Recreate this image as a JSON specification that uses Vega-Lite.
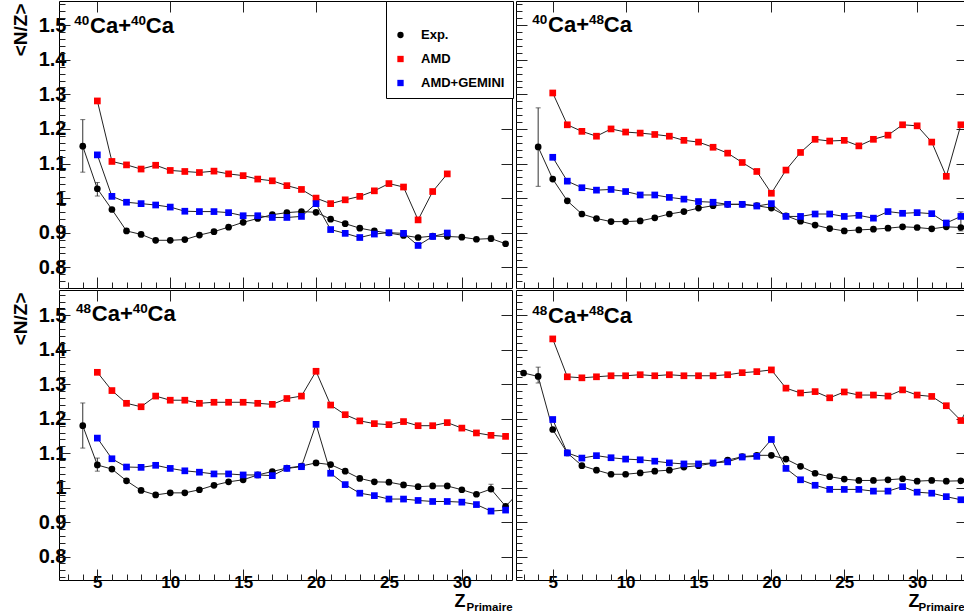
{
"$schema":"https://vega.github.io/schema/vega-lite/v6.json",
"background":"white",
"padding":{"left":10,"top":0,"right":0,"bottom":0},
"spacing":0,
"datasets":{
"titles":[{"p":"TL","a":"40","b":"40","x":3.42,"y":1.478},{"p":"TR","a":"40","b":"48","x":3.6,"y":1.481},{"p":"BL","a":"48","b":"40","x":3.54,"y":1.484},{"p":"BR","a":"48","b":"48","x":3.6,"y":1.479}],
"pts":[
{"p":"TL","s":"Exp.","z":4,"v":1.150,"lo":1.075,"hi":1.227},{"p":"TL","s":"Exp.","z":5,"v":1.027,"lo":1.006,"hi":1.045},{"p":"TL","s":"Exp.","z":6,"v":0.967},{"p":"TL","s":"Exp.","z":7,"v":0.905},{"p":"TL","s":"Exp.","z":8,"v":0.895},{"p":"TL","s":"Exp.","z":9,"v":0.878},{"p":"TL","s":"Exp.","z":10,"v":0.878},{"p":"TL","s":"Exp.","z":11,"v":0.880},{"p":"TL","s":"Exp.","z":12,"v":0.893},{"p":"TL","s":"Exp.","z":13,"v":0.903},{"p":"TL","s":"Exp.","z":14,"v":0.916},{"p":"TL","s":"Exp.","z":15,"v":0.930},{"p":"TL","s":"Exp.","z":16,"v":0.941},{"p":"TL","s":"Exp.","z":17,"v":0.952},{"p":"TL","s":"Exp.","z":18,"v":0.958},{"p":"TL","s":"Exp.","z":19,"v":0.961},{"p":"TL","s":"Exp.","z":20,"v":0.959},{"p":"TL","s":"Exp.","z":21,"v":0.939},{"p":"TL","s":"Exp.","z":22,"v":0.926},{"p":"TL","s":"Exp.","z":23,"v":0.913},{"p":"TL","s":"Exp.","z":24,"v":0.905},{"p":"TL","s":"Exp.","z":25,"v":0.899},{"p":"TL","s":"Exp.","z":26,"v":0.892},{"p":"TL","s":"Exp.","z":27,"v":0.886},{"p":"TL","s":"Exp.","z":28,"v":0.890},{"p":"TL","s":"Exp.","z":29,"v":0.889},{"p":"TL","s":"Exp.","z":30,"v":0.887},{"p":"TL","s":"Exp.","z":31,"v":0.881},{"p":"TL","s":"Exp.","z":32,"v":0.883,"lo":0.875,"hi":0.892},{"p":"TL","s":"Exp.","z":33,"v":0.868},
{"p":"TL","s":"AMD","z":5,"v":1.281},{"p":"TL","s":"AMD","z":6,"v":1.106},{"p":"TL","s":"AMD","z":7,"v":1.096},{"p":"TL","s":"AMD","z":8,"v":1.084},{"p":"TL","s":"AMD","z":9,"v":1.095},{"p":"TL","s":"AMD","z":10,"v":1.080},{"p":"TL","s":"AMD","z":11,"v":1.077},{"p":"TL","s":"AMD","z":12,"v":1.074},{"p":"TL","s":"AMD","z":13,"v":1.078},{"p":"TL","s":"AMD","z":14,"v":1.070},{"p":"TL","s":"AMD","z":15,"v":1.065},{"p":"TL","s":"AMD","z":16,"v":1.055},{"p":"TL","s":"AMD","z":17,"v":1.050},{"p":"TL","s":"AMD","z":18,"v":1.036},{"p":"TL","s":"AMD","z":19,"v":1.025},{"p":"TL","s":"AMD","z":20,"v":1.000},{"p":"TL","s":"AMD","z":21,"v":0.984},{"p":"TL","s":"AMD","z":22,"v":0.995},{"p":"TL","s":"AMD","z":23,"v":1.005},{"p":"TL","s":"AMD","z":24,"v":1.021},{"p":"TL","s":"AMD","z":25,"v":1.042},{"p":"TL","s":"AMD","z":26,"v":1.032},{"p":"TL","s":"AMD","z":27,"v":0.937},{"p":"TL","s":"AMD","z":28,"v":1.019},{"p":"TL","s":"AMD","z":29,"v":1.070},
{"p":"TL","s":"AMD+GEMINI","z":5,"v":1.125},{"p":"TL","s":"AMD+GEMINI","z":6,"v":1.005},{"p":"TL","s":"AMD+GEMINI","z":7,"v":0.988},{"p":"TL","s":"AMD+GEMINI","z":8,"v":0.984},{"p":"TL","s":"AMD+GEMINI","z":9,"v":0.980},{"p":"TL","s":"AMD+GEMINI","z":10,"v":0.974},{"p":"TL","s":"AMD+GEMINI","z":11,"v":0.962},{"p":"TL","s":"AMD+GEMINI","z":12,"v":0.961},{"p":"TL","s":"AMD+GEMINI","z":13,"v":0.961},{"p":"TL","s":"AMD+GEMINI","z":14,"v":0.958},{"p":"TL","s":"AMD+GEMINI","z":15,"v":0.949},{"p":"TL","s":"AMD+GEMINI","z":16,"v":0.949},{"p":"TL","s":"AMD+GEMINI","z":17,"v":0.944},{"p":"TL","s":"AMD+GEMINI","z":18,"v":0.944},{"p":"TL","s":"AMD+GEMINI","z":19,"v":0.947},{"p":"TL","s":"AMD+GEMINI","z":20,"v":0.984},{"p":"TL","s":"AMD+GEMINI","z":21,"v":0.909},{"p":"TL","s":"AMD+GEMINI","z":22,"v":0.898},{"p":"TL","s":"AMD+GEMINI","z":23,"v":0.886},{"p":"TL","s":"AMD+GEMINI","z":24,"v":0.896},{"p":"TL","s":"AMD+GEMINI","z":25,"v":0.900},{"p":"TL","s":"AMD+GEMINI","z":26,"v":0.898},{"p":"TL","s":"AMD+GEMINI","z":27,"v":0.863},{"p":"TL","s":"AMD+GEMINI","z":28,"v":0.889},{"p":"TL","s":"AMD+GEMINI","z":29,"v":0.899},
{"p":"TR","s":"Exp.","z":4,"v":1.148,"lo":1.034,"hi":1.261},{"p":"TR","s":"Exp.","z":5,"v":1.055},{"p":"TR","s":"Exp.","z":6,"v":0.992},{"p":"TR","s":"Exp.","z":7,"v":0.954},{"p":"TR","s":"Exp.","z":8,"v":0.941},{"p":"TR","s":"Exp.","z":9,"v":0.932},{"p":"TR","s":"Exp.","z":10,"v":0.932},{"p":"TR","s":"Exp.","z":11,"v":0.934},{"p":"TR","s":"Exp.","z":12,"v":0.943},{"p":"TR","s":"Exp.","z":13,"v":0.954},{"p":"TR","s":"Exp.","z":14,"v":0.961},{"p":"TR","s":"Exp.","z":15,"v":0.971},{"p":"TR","s":"Exp.","z":16,"v":0.978},{"p":"TR","s":"Exp.","z":17,"v":0.982},{"p":"TR","s":"Exp.","z":18,"v":0.982},{"p":"TR","s":"Exp.","z":19,"v":0.978},{"p":"TR","s":"Exp.","z":20,"v":0.971},{"p":"TR","s":"Exp.","z":21,"v":0.949},{"p":"TR","s":"Exp.","z":22,"v":0.933},{"p":"TR","s":"Exp.","z":23,"v":0.922},{"p":"TR","s":"Exp.","z":24,"v":0.912},{"p":"TR","s":"Exp.","z":25,"v":0.905},{"p":"TR","s":"Exp.","z":26,"v":0.908},{"p":"TR","s":"Exp.","z":27,"v":0.910},{"p":"TR","s":"Exp.","z":28,"v":0.913},{"p":"TR","s":"Exp.","z":29,"v":0.917},{"p":"TR","s":"Exp.","z":30,"v":0.915},{"p":"TR","s":"Exp.","z":31,"v":0.911},{"p":"TR","s":"Exp.","z":32,"v":0.917},{"p":"TR","s":"Exp.","z":33,"v":0.915,"lo":0.905,"hi":0.96},
{"p":"TR","s":"AMD","z":5,"v":1.304},{"p":"TR","s":"AMD","z":6,"v":1.212},{"p":"TR","s":"AMD","z":7,"v":1.193},{"p":"TR","s":"AMD","z":8,"v":1.179},{"p":"TR","s":"AMD","z":9,"v":1.200},{"p":"TR","s":"AMD","z":10,"v":1.191},{"p":"TR","s":"AMD","z":11,"v":1.188},{"p":"TR","s":"AMD","z":12,"v":1.184},{"p":"TR","s":"AMD","z":13,"v":1.179},{"p":"TR","s":"AMD","z":14,"v":1.167},{"p":"TR","s":"AMD","z":15,"v":1.162},{"p":"TR","s":"AMD","z":16,"v":1.147},{"p":"TR","s":"AMD","z":17,"v":1.130},{"p":"TR","s":"AMD","z":18,"v":1.103},{"p":"TR","s":"AMD","z":19,"v":1.077},{"p":"TR","s":"AMD","z":20,"v":1.014},{"p":"TR","s":"AMD","z":21,"v":1.081},{"p":"TR","s":"AMD","z":22,"v":1.132},{"p":"TR","s":"AMD","z":23,"v":1.170},{"p":"TR","s":"AMD","z":24,"v":1.165},{"p":"TR","s":"AMD","z":25,"v":1.167},{"p":"TR","s":"AMD","z":26,"v":1.151},{"p":"TR","s":"AMD","z":27,"v":1.170},{"p":"TR","s":"AMD","z":28,"v":1.182},{"p":"TR","s":"AMD","z":29,"v":1.212},{"p":"TR","s":"AMD","z":30,"v":1.209},{"p":"TR","s":"AMD","z":31,"v":1.162},{"p":"TR","s":"AMD","z":32,"v":1.063},{"p":"TR","s":"AMD","z":33,"v":1.212},
{"p":"TR","s":"AMD+GEMINI","z":5,"v":1.118},{"p":"TR","s":"AMD+GEMINI","z":6,"v":1.049},{"p":"TR","s":"AMD+GEMINI","z":7,"v":1.030},{"p":"TR","s":"AMD+GEMINI","z":8,"v":1.023},{"p":"TR","s":"AMD+GEMINI","z":9,"v":1.025},{"p":"TR","s":"AMD+GEMINI","z":10,"v":1.019},{"p":"TR","s":"AMD+GEMINI","z":11,"v":1.009},{"p":"TR","s":"AMD+GEMINI","z":12,"v":1.009},{"p":"TR","s":"AMD+GEMINI","z":13,"v":1.002},{"p":"TR","s":"AMD+GEMINI","z":14,"v":0.997},{"p":"TR","s":"AMD+GEMINI","z":15,"v":0.990},{"p":"TR","s":"AMD+GEMINI","z":16,"v":0.988},{"p":"TR","s":"AMD+GEMINI","z":17,"v":0.982},{"p":"TR","s":"AMD+GEMINI","z":18,"v":0.982},{"p":"TR","s":"AMD+GEMINI","z":19,"v":0.977},{"p":"TR","s":"AMD+GEMINI","z":20,"v":0.984},{"p":"TR","s":"AMD+GEMINI","z":21,"v":0.947},{"p":"TR","s":"AMD+GEMINI","z":22,"v":0.947},{"p":"TR","s":"AMD+GEMINI","z":23,"v":0.954},{"p":"TR","s":"AMD+GEMINI","z":24,"v":0.954},{"p":"TR","s":"AMD+GEMINI","z":25,"v":0.947},{"p":"TR","s":"AMD+GEMINI","z":26,"v":0.950},{"p":"TR","s":"AMD+GEMINI","z":27,"v":0.942},{"p":"TR","s":"AMD+GEMINI","z":28,"v":0.961},{"p":"TR","s":"AMD+GEMINI","z":29,"v":0.956},{"p":"TR","s":"AMD+GEMINI","z":30,"v":0.958},{"p":"TR","s":"AMD+GEMINI","z":31,"v":0.955},{"p":"TR","s":"AMD+GEMINI","z":32,"v":0.928},{"p":"TR","s":"AMD+GEMINI","z":33,"v":0.947},
{"p":"BL","s":"Exp.","z":4,"v":1.180,"lo":1.115,"hi":1.246},{"p":"BL","s":"Exp.","z":5,"v":1.066,"lo":1.048,"hi":1.086},{"p":"BL","s":"Exp.","z":6,"v":1.054},{"p":"BL","s":"Exp.","z":7,"v":1.020},{"p":"BL","s":"Exp.","z":8,"v":0.992},{"p":"BL","s":"Exp.","z":9,"v":0.979},{"p":"BL","s":"Exp.","z":10,"v":0.985},{"p":"BL","s":"Exp.","z":11,"v":0.985},{"p":"BL","s":"Exp.","z":12,"v":0.994},{"p":"BL","s":"Exp.","z":13,"v":1.007},{"p":"BL","s":"Exp.","z":14,"v":1.017},{"p":"BL","s":"Exp.","z":15,"v":1.023},{"p":"BL","s":"Exp.","z":16,"v":1.037},{"p":"BL","s":"Exp.","z":17,"v":1.047},{"p":"BL","s":"Exp.","z":18,"v":1.057},{"p":"BL","s":"Exp.","z":19,"v":1.063},{"p":"BL","s":"Exp.","z":20,"v":1.072},{"p":"BL","s":"Exp.","z":21,"v":1.067},{"p":"BL","s":"Exp.","z":22,"v":1.048},{"p":"BL","s":"Exp.","z":23,"v":1.027},{"p":"BL","s":"Exp.","z":24,"v":1.017},{"p":"BL","s":"Exp.","z":25,"v":1.016},{"p":"BL","s":"Exp.","z":26,"v":1.008},{"p":"BL","s":"Exp.","z":27,"v":1.003},{"p":"BL","s":"Exp.","z":28,"v":1.005},{"p":"BL","s":"Exp.","z":29,"v":1.005},{"p":"BL","s":"Exp.","z":30,"v":0.994},{"p":"BL","s":"Exp.","z":31,"v":0.981},{"p":"BL","s":"Exp.","z":32,"v":0.996,"lo":0.989,"hi":1.010},{"p":"BL","s":"Exp.","z":33,"v":0.946},{"p":"BL","s":"Exp.","z":34,"v":0.99},
{"p":"BL","s":"AMD","z":5,"v":1.335},{"p":"BL","s":"AMD","z":6,"v":1.282},{"p":"BL","s":"AMD","z":7,"v":1.245},{"p":"BL","s":"AMD","z":8,"v":1.235},{"p":"BL","s":"AMD","z":9,"v":1.266},{"p":"BL","s":"AMD","z":10,"v":1.254},{"p":"BL","s":"AMD","z":11,"v":1.254},{"p":"BL","s":"AMD","z":12,"v":1.245},{"p":"BL","s":"AMD","z":13,"v":1.248},{"p":"BL","s":"AMD","z":14,"v":1.248},{"p":"BL","s":"AMD","z":15,"v":1.248},{"p":"BL","s":"AMD","z":16,"v":1.245},{"p":"BL","s":"AMD","z":17,"v":1.242},{"p":"BL","s":"AMD","z":18,"v":1.259},{"p":"BL","s":"AMD","z":19,"v":1.266},{"p":"BL","s":"AMD","z":20,"v":1.338},{"p":"BL","s":"AMD","z":21,"v":1.240},{"p":"BL","s":"AMD","z":22,"v":1.212},{"p":"BL","s":"AMD","z":23,"v":1.194},{"p":"BL","s":"AMD","z":24,"v":1.186},{"p":"BL","s":"AMD","z":25,"v":1.183},{"p":"BL","s":"AMD","z":26,"v":1.192},{"p":"BL","s":"AMD","z":27,"v":1.180},{"p":"BL","s":"AMD","z":28,"v":1.180},{"p":"BL","s":"AMD","z":29,"v":1.189},{"p":"BL","s":"AMD","z":30,"v":1.173},{"p":"BL","s":"AMD","z":31,"v":1.159},{"p":"BL","s":"AMD","z":32,"v":1.152},{"p":"BL","s":"AMD","z":33,"v":1.149},
{"p":"BL","s":"AMD+GEMINI","z":5,"v":1.144},{"p":"BL","s":"AMD+GEMINI","z":6,"v":1.084},{"p":"BL","s":"AMD+GEMINI","z":7,"v":1.060},{"p":"BL","s":"AMD+GEMINI","z":8,"v":1.059},{"p":"BL","s":"AMD+GEMINI","z":9,"v":1.065},{"p":"BL","s":"AMD+GEMINI","z":10,"v":1.056},{"p":"BL","s":"AMD+GEMINI","z":11,"v":1.049},{"p":"BL","s":"AMD+GEMINI","z":12,"v":1.045},{"p":"BL","s":"AMD+GEMINI","z":13,"v":1.040},{"p":"BL","s":"AMD+GEMINI","z":14,"v":1.040},{"p":"BL","s":"AMD+GEMINI","z":15,"v":1.037},{"p":"BL","s":"AMD+GEMINI","z":16,"v":1.037},{"p":"BL","s":"AMD+GEMINI","z":17,"v":1.035},{"p":"BL","s":"AMD+GEMINI","z":18,"v":1.056},{"p":"BL","s":"AMD+GEMINI","z":19,"v":1.061},{"p":"BL","s":"AMD+GEMINI","z":20,"v":1.184},{"p":"BL","s":"AMD+GEMINI","z":21,"v":1.042},{"p":"BL","s":"AMD+GEMINI","z":22,"v":1.009},{"p":"BL","s":"AMD+GEMINI","z":23,"v":0.984},{"p":"BL","s":"AMD+GEMINI","z":24,"v":0.977},{"p":"BL","s":"AMD+GEMINI","z":25,"v":0.967},{"p":"BL","s":"AMD+GEMINI","z":26,"v":0.967},{"p":"BL","s":"AMD+GEMINI","z":27,"v":0.963},{"p":"BL","s":"AMD+GEMINI","z":28,"v":0.960},{"p":"BL","s":"AMD+GEMINI","z":29,"v":0.960},{"p":"BL","s":"AMD+GEMINI","z":30,"v":0.958},{"p":"BL","s":"AMD+GEMINI","z":31,"v":0.951},{"p":"BL","s":"AMD+GEMINI","z":32,"v":0.932},{"p":"BL","s":"AMD+GEMINI","z":33,"v":0.935},
{"p":"BR","s":"Exp.","z":3,"v":1.333},{"p":"BR","s":"Exp.","z":4,"v":1.323,"lo":1.304,"hi":1.350},{"p":"BR","s":"Exp.","z":5,"v":1.169},{"p":"BR","s":"Exp.","z":6,"v":1.101},{"p":"BR","s":"Exp.","z":7,"v":1.064},{"p":"BR","s":"Exp.","z":8,"v":1.051},{"p":"BR","s":"Exp.","z":9,"v":1.039},{"p":"BR","s":"Exp.","z":10,"v":1.039},{"p":"BR","s":"Exp.","z":11,"v":1.043},{"p":"BR","s":"Exp.","z":12,"v":1.048},{"p":"BR","s":"Exp.","z":13,"v":1.051},{"p":"BR","s":"Exp.","z":14,"v":1.060},{"p":"BR","s":"Exp.","z":15,"v":1.064},{"p":"BR","s":"Exp.","z":16,"v":1.071},{"p":"BR","s":"Exp.","z":17,"v":1.080},{"p":"BR","s":"Exp.","z":18,"v":1.090},{"p":"BR","s":"Exp.","z":19,"v":1.094},{"p":"BR","s":"Exp.","z":20,"v":1.094},{"p":"BR","s":"Exp.","z":21,"v":1.083},{"p":"BR","s":"Exp.","z":22,"v":1.062},{"p":"BR","s":"Exp.","z":23,"v":1.042},{"p":"BR","s":"Exp.","z":24,"v":1.032},{"p":"BR","s":"Exp.","z":25,"v":1.025},{"p":"BR","s":"Exp.","z":26,"v":1.021},{"p":"BR","s":"Exp.","z":27,"v":1.021},{"p":"BR","s":"Exp.","z":28,"v":1.023},{"p":"BR","s":"Exp.","z":29,"v":1.026},{"p":"BR","s":"Exp.","z":30,"v":1.019},{"p":"BR","s":"Exp.","z":31,"v":1.021},{"p":"BR","s":"Exp.","z":32,"v":1.019},{"p":"BR","s":"Exp.","z":33,"v":1.020},
{"p":"BR","s":"AMD","z":5,"v":1.432},{"p":"BR","s":"AMD","z":6,"v":1.322},{"p":"BR","s":"AMD","z":7,"v":1.319},{"p":"BR","s":"AMD","z":8,"v":1.322},{"p":"BR","s":"AMD","z":9,"v":1.325},{"p":"BR","s":"AMD","z":10,"v":1.325},{"p":"BR","s":"AMD","z":11,"v":1.328},{"p":"BR","s":"AMD","z":12,"v":1.325},{"p":"BR","s":"AMD","z":13,"v":1.328},{"p":"BR","s":"AMD","z":14,"v":1.325},{"p":"BR","s":"AMD","z":15,"v":1.325},{"p":"BR","s":"AMD","z":16,"v":1.325},{"p":"BR","s":"AMD","z":17,"v":1.328},{"p":"BR","s":"AMD","z":18,"v":1.334},{"p":"BR","s":"AMD","z":19,"v":1.337},{"p":"BR","s":"AMD","z":20,"v":1.342},{"p":"BR","s":"AMD","z":21,"v":1.289},{"p":"BR","s":"AMD","z":22,"v":1.275},{"p":"BR","s":"AMD","z":23,"v":1.279},{"p":"BR","s":"AMD","z":24,"v":1.261},{"p":"BR","s":"AMD","z":25,"v":1.278},{"p":"BR","s":"AMD","z":26,"v":1.269},{"p":"BR","s":"AMD","z":27,"v":1.269},{"p":"BR","s":"AMD","z":28,"v":1.266},{"p":"BR","s":"AMD","z":29,"v":1.284},{"p":"BR","s":"AMD","z":30,"v":1.269},{"p":"BR","s":"AMD","z":31,"v":1.265},{"p":"BR","s":"AMD","z":32,"v":1.238},{"p":"BR","s":"AMD","z":33,"v":1.195},{"p":"BR","s":"AMD","z":34,"v":1.27},
{"p":"BR","s":"AMD+GEMINI","z":5,"v":1.198},{"p":"BR","s":"AMD+GEMINI","z":6,"v":1.101},{"p":"BR","s":"AMD+GEMINI","z":7,"v":1.086},{"p":"BR","s":"AMD+GEMINI","z":8,"v":1.093},{"p":"BR","s":"AMD+GEMINI","z":9,"v":1.087},{"p":"BR","s":"AMD+GEMINI","z":10,"v":1.083},{"p":"BR","s":"AMD+GEMINI","z":11,"v":1.081},{"p":"BR","s":"AMD+GEMINI","z":12,"v":1.077},{"p":"BR","s":"AMD+GEMINI","z":13,"v":1.072},{"p":"BR","s":"AMD+GEMINI","z":14,"v":1.069},{"p":"BR","s":"AMD+GEMINI","z":15,"v":1.069},{"p":"BR","s":"AMD+GEMINI","z":16,"v":1.072},{"p":"BR","s":"AMD+GEMINI","z":17,"v":1.075},{"p":"BR","s":"AMD+GEMINI","z":18,"v":1.089},{"p":"BR","s":"AMD+GEMINI","z":19,"v":1.091},{"p":"BR","s":"AMD+GEMINI","z":20,"v":1.140},{"p":"BR","s":"AMD+GEMINI","z":21,"v":1.056},{"p":"BR","s":"AMD+GEMINI","z":22,"v":1.023},{"p":"BR","s":"AMD+GEMINI","z":23,"v":1.007},{"p":"BR","s":"AMD+GEMINI","z":24,"v":0.995},{"p":"BR","s":"AMD+GEMINI","z":25,"v":0.995},{"p":"BR","s":"AMD+GEMINI","z":26,"v":0.995},{"p":"BR","s":"AMD+GEMINI","z":27,"v":0.990},{"p":"BR","s":"AMD+GEMINI","z":28,"v":0.990},{"p":"BR","s":"AMD+GEMINI","z":29,"v":1.003},{"p":"BR","s":"AMD+GEMINI","z":30,"v":0.987},{"p":"BR","s":"AMD+GEMINI","z":31,"v":0.984},{"p":"BR","s":"AMD+GEMINI","z":32,"v":0.974},{"p":"BR","s":"AMD+GEMINI","z":33,"v":0.965}
]},
"vconcat":[
{"hconcat":[
{"width":453,"height":287,"data":{"name":"pts"},"transform":[{"filter":"datum.p==='TL'"}],
 "resolve":{"axis":{"x":"independent","y":"independent"}},
 "layer":[
  {"mark":{"type":"line","color":"#222","strokeWidth":1,"clip":true},
   "encoding":{"x":{"field":"z","type":"quantitative","scale":{"domain":[2.37,33.44],"nice":false,"zero":false},"axis":{"orient":"bottom","values":[5,10,15,20,25,30],"tickSize":-11,"labels":false,"title":null}},
    "y":{"field":"v","type":"quantitative","scale":{"domain":[0.74,1.57],"nice":false,"zero":false},"axis":{"orient":"left","values":[0.8,0.9,1,1.1,1.2,1.3,1.4,1.5],"tickSize":-11,"labelFontSize":20,"labelPadding":4,"format":"~g","title":"<N/Z>","titleFontSize":19,"titleAngle":270,"titleAlign":"right","titleBaseline":"alphabetic","titleX":-33,"titleY":2}},
    "detail":{"field":"s"}}},
  {"transform":[{"filter":"isValid(datum.lo)"}],"mark":{"type":"rule","color":"#333","strokeWidth":1},
   "encoding":{"x":{"field":"z","type":"quantitative","scale":{"domain":[2.37,33.44],"nice":false,"zero":false},"axis":{"orient":"top","values":[5,10,15,20,25,30],"tickSize":-11,"labels":false,"title":null}},
    "y":{"field":"lo","type":"quantitative","scale":{"domain":[0.74,1.57],"nice":false,"zero":false},"axis":{"orient":"right","values":[0.8,0.9,1,1.1,1.2,1.3,1.4,1.5],"tickSize":-11,"labels":false,"title":null}},
    "y2":{"field":"hi"}}},
  {"transform":[{"filter":"isValid(datum.lo)"}],"mark":{"type":"tick","orient":"horizontal","size":5,"thickness":1,"color":"#333"},
   "encoding":{"x":{"field":"z","type":"quantitative","scale":{"domain":[2.37,33.44],"nice":false,"zero":false},"axis":null},"y":{"field":"lo","type":"quantitative","scale":{"domain":[0.74,1.57],"nice":false,"zero":false},"axis":null}}},
  {"transform":[{"filter":"isValid(datum.lo)"}],"mark":{"type":"tick","orient":"horizontal","size":5,"thickness":1,"color":"#333"},
   "encoding":{"x":{"field":"z","type":"quantitative","scale":{"domain":[2.37,33.44],"nice":false,"zero":false},"axis":null},"y":{"field":"hi","type":"quantitative","scale":{"domain":[0.74,1.57],"nice":false,"zero":false},"axis":null}}},
  {"mark":{"type":"point","filled":true,"opacity":1,"size":45,"clip":true},
   "encoding":{"x":{"field":"z","type":"quantitative","scale":{"domain":[2.37,33.44],"nice":false,"zero":false},"axis":{"orient":"bottom","values":[3,4,5,6,7,8,9,10,11,12,13,14,15,16,17,18,19,20,21,22,23,24,25,26,27,28,29,30,31,32,33],"tickSize":-6,"labels":false,"title":null}},
    "y":{"field":"v","type":"quantitative","scale":{"domain":[0.74,1.57],"nice":false,"zero":false},"axis":{"orient":"left","values":[0.74,0.76,0.78,0.8,0.82,0.84,0.86,0.88,0.9,0.92,0.94,0.96,0.98,1,1.02,1.04,1.06,1.08,1.1,1.12,1.14,1.16,1.18,1.2,1.22,1.24,1.26,1.28,1.3,1.32,1.34,1.36,1.38,1.4,1.42,1.44,1.46,1.48,1.5,1.52,1.54,1.56],"tickSize":-6,"labels":false,"title":null}},
    "color":{"field":"s","type":"nominal","scale":{"domain":["Exp.","AMD","AMD+GEMINI"],"range":["#000000","#ff0000","#0000ff"]},"legend":{"orient":"none","legendX":327,"legendY":0,"title":" "}},
    "shape":{"field":"s","type":"nominal","scale":{"domain":["Exp.","AMD","AMD+GEMINI"],"range":["circle","square","square"]},"legend":{"orient":"none","legendX":327,"legendY":0,"title":" "}}}},
  {"data":{"name":"titles"},"transform":[{"filter":"datum.p==='TL'"}],
   "layer":[
    {"mark":{"type":"text","align":"left","baseline":"alphabetic","fontSize":13.5,"dy":-7.6,"fontWeight":"bold","font":"Liberation Sans","color":"black"},
     "encoding":{"x":{"field":"x","type":"quantitative","scale":{"domain":[2.37,33.44],"nice":false,"zero":false},"axis":{"orient":"top","values":[3,4,5,6,7,8,9,10,11,12,13,14,15,16,17,18,19,20,21,22,23,24,25,26,27,28,29,30,31,32,33],"tickSize":-6,"labels":false,"title":null}},
      "y":{"field":"y","type":"quantitative","scale":{"domain":[0.74,1.57],"nice":false,"zero":false},"axis":{"orient":"right","values":[0.74,0.76,0.78,0.8,0.82,0.84,0.86,0.88,0.9,0.92,0.94,0.96,0.98,1,1.02,1.04,1.06,1.08,1.1,1.12,1.14,1.16,1.18,1.2,1.22,1.24,1.26,1.28,1.3,1.32,1.34,1.36,1.38,1.4,1.42,1.44,1.46,1.48,1.5,1.52,1.54,1.56],"tickSize":-6,"labels":false,"title":null}},
      "text":{"field":"a"}}},
    {"mark":{"type":"text","align":"left","baseline":"alphabetic","fontSize":22,"dx":15.7,"fontWeight":"bold","font":"Liberation Sans","color":"black"},
     "encoding":{"x":{"field":"x","type":"quantitative","scale":{"domain":[2.37,33.44],"nice":false,"zero":false},"axis":null},"y":{"field":"y","type":"quantitative","scale":{"domain":[0.74,1.57],"nice":false,"zero":false},"axis":null},"text":{"value":"Ca+"}}},
    {"mark":{"type":"text","align":"left","baseline":"alphabetic","fontSize":13.5,"dx":56.7,"dy":-7.6,"fontWeight":"bold","font":"Liberation Sans","color":"black"},
     "encoding":{"x":{"field":"x","type":"quantitative","scale":{"domain":[2.37,33.44],"nice":false,"zero":false},"axis":null},"y":{"field":"y","type":"quantitative","scale":{"domain":[0.74,1.57],"nice":false,"zero":false},"axis":null},"text":{"field":"b"}}},
    {"mark":{"type":"text","align":"left","baseline":"alphabetic","fontSize":22,"dx":71.5,"fontWeight":"bold","font":"Liberation Sans","color":"black"},
     "encoding":{"x":{"field":"x","type":"quantitative","scale":{"domain":[2.37,33.44],"nice":false,"zero":false},"axis":null},"y":{"field":"y","type":"quantitative","scale":{"domain":[0.74,1.57],"nice":false,"zero":false},"axis":null},"text":{"value":"Ca"}}}
   ]}
 ]},
{"width":451,"height":287,"data":{"name":"pts"},"transform":[{"filter":"datum.p==='TR'"}],
 "resolve":{"axis":{"x":"independent","y":"independent"}},
 "layer":[
  {"mark":{"type":"line","color":"#222","strokeWidth":1,"clip":true},
   "encoding":{"x":{"field":"z","type":"quantitative","scale":{"domain":[2.48,33.42],"nice":false,"zero":false},"axis":{"orient":"bottom","values":[5,10,15,20,25,30],"tickSize":-11,"labels":false,"title":null}},
    "y":{"field":"v","type":"quantitative","scale":{"domain":[0.74,1.57],"nice":false,"zero":false},"axis":{"orient":"left","values":[0.8,0.9,1,1.1,1.2,1.3,1.4,1.5],"tickSize":-11,"labels":false,"title":null}},
    "detail":{"field":"s"}}},
  {"transform":[{"filter":"isValid(datum.lo)"}],"mark":{"type":"rule","color":"#333","strokeWidth":1},
   "encoding":{"x":{"field":"z","type":"quantitative","scale":{"domain":[2.48,33.42],"nice":false,"zero":false},"axis":{"orient":"top","values":[5,10,15,20,25,30],"tickSize":-11,"labels":false,"title":null}},
    "y":{"field":"lo","type":"quantitative","scale":{"domain":[0.74,1.57],"nice":false,"zero":false},"axis":{"orient":"right","values":[0.8,0.9,1,1.1,1.2,1.3,1.4,1.5],"tickSize":-11,"labels":false,"title":null}},
    "y2":{"field":"hi"}}},
  {"transform":[{"filter":"isValid(datum.lo)"}],"mark":{"type":"tick","orient":"horizontal","size":5,"thickness":1,"color":"#333"},
   "encoding":{"x":{"field":"z","type":"quantitative","scale":{"domain":[2.48,33.42],"nice":false,"zero":false},"axis":null},"y":{"field":"lo","type":"quantitative","scale":{"domain":[0.74,1.57],"nice":false,"zero":false},"axis":null}}},
  {"transform":[{"filter":"isValid(datum.lo)"}],"mark":{"type":"tick","orient":"horizontal","size":5,"thickness":1,"color":"#333"},
   "encoding":{"x":{"field":"z","type":"quantitative","scale":{"domain":[2.48,33.42],"nice":false,"zero":false},"axis":null},"y":{"field":"hi","type":"quantitative","scale":{"domain":[0.74,1.57],"nice":false,"zero":false},"axis":null}}},
  {"mark":{"type":"point","filled":true,"opacity":1,"size":45,"clip":true},
   "encoding":{"x":{"field":"z","type":"quantitative","scale":{"domain":[2.48,33.42],"nice":false,"zero":false},"axis":{"orient":"bottom","values":[3,4,5,6,7,8,9,10,11,12,13,14,15,16,17,18,19,20,21,22,23,24,25,26,27,28,29,30,31,32,33],"tickSize":-6,"labels":false,"title":null}},
    "y":{"field":"v","type":"quantitative","scale":{"domain":[0.74,1.57],"nice":false,"zero":false},"axis":{"orient":"left","values":[0.74,0.76,0.78,0.8,0.82,0.84,0.86,0.88,0.9,0.92,0.94,0.96,0.98,1,1.02,1.04,1.06,1.08,1.1,1.12,1.14,1.16,1.18,1.2,1.22,1.24,1.26,1.28,1.3,1.32,1.34,1.36,1.38,1.4,1.42,1.44,1.46,1.48,1.5,1.52,1.54,1.56],"tickSize":-6,"labels":false,"title":null}},
    "color":{"field":"s","type":"nominal","scale":{"domain":["Exp.","AMD","AMD+GEMINI"],"range":["#000000","#ff0000","#0000ff"]},"legend":{"orient":"none","legendX":327,"legendY":0,"title":" "}},
    "shape":{"field":"s","type":"nominal","scale":{"domain":["Exp.","AMD","AMD+GEMINI"],"range":["circle","square","square"]},"legend":{"orient":"none","legendX":327,"legendY":0,"title":" "}}}},
  {"data":{"name":"titles"},"transform":[{"filter":"datum.p==='TR'"}],
   "layer":[
    {"mark":{"type":"text","align":"left","baseline":"alphabetic","fontSize":13.5,"dy":-7.6,"fontWeight":"bold","font":"Liberation Sans","color":"black"},
     "encoding":{"x":{"field":"x","type":"quantitative","scale":{"domain":[2.48,33.42],"nice":false,"zero":false},"axis":{"orient":"top","values":[3,4,5,6,7,8,9,10,11,12,13,14,15,16,17,18,19,20,21,22,23,24,25,26,27,28,29,30,31,32,33],"tickSize":-6,"labels":false,"title":null}},
      "y":{"field":"y","type":"quantitative","scale":{"domain":[0.74,1.57],"nice":false,"zero":false},"axis":{"orient":"right","values":[0.74,0.76,0.78,0.8,0.82,0.84,0.86,0.88,0.9,0.92,0.94,0.96,0.98,1,1.02,1.04,1.06,1.08,1.1,1.12,1.14,1.16,1.18,1.2,1.22,1.24,1.26,1.28,1.3,1.32,1.34,1.36,1.38,1.4,1.42,1.44,1.46,1.48,1.5,1.52,1.54,1.56],"tickSize":-6,"labels":false,"title":null}},
      "text":{"field":"a"}}},
    {"mark":{"type":"text","align":"left","baseline":"alphabetic","fontSize":22,"dx":15.7,"fontWeight":"bold","font":"Liberation Sans","color":"black"},
     "encoding":{"x":{"field":"x","type":"quantitative","scale":{"domain":[2.48,33.42],"nice":false,"zero":false},"axis":null},"y":{"field":"y","type":"quantitative","scale":{"domain":[0.74,1.57],"nice":false,"zero":false},"axis":null},"text":{"value":"Ca+"}}},
    {"mark":{"type":"text","align":"left","baseline":"alphabetic","fontSize":13.5,"dx":56.7,"dy":-7.6,"fontWeight":"bold","font":"Liberation Sans","color":"black"},
     "encoding":{"x":{"field":"x","type":"quantitative","scale":{"domain":[2.48,33.42],"nice":false,"zero":false},"axis":null},"y":{"field":"y","type":"quantitative","scale":{"domain":[0.74,1.57],"nice":false,"zero":false},"axis":null},"text":{"field":"b"}}},
    {"mark":{"type":"text","align":"left","baseline":"alphabetic","fontSize":22,"dx":71.5,"fontWeight":"bold","font":"Liberation Sans","color":"black"},
     "encoding":{"x":{"field":"x","type":"quantitative","scale":{"domain":[2.48,33.42],"nice":false,"zero":false},"axis":null},"y":{"field":"y","type":"quantitative","scale":{"domain":[0.74,1.57],"nice":false,"zero":false},"axis":null},"text":{"value":"Ca"}}}
   ]}
 ]}
],"spacing":2},
{"hconcat":[
{"width":453,"height":290,"data":{"name":"pts"},"transform":[{"filter":"datum.p==='BL'"}],
 "resolve":{"axis":{"x":"independent","y":"independent"}},
 "layer":[
  {"mark":{"type":"line","color":"#222","strokeWidth":1,"clip":true},
   "encoding":{"x":{"field":"z","type":"quantitative","scale":{"domain":[2.37,33.44],"nice":false,"zero":false},"axis":{"orient":"bottom","values":[5,10,15,20,25,30],"tickSize":-11,"labelFontSize":17,"labelPadding":5,"format":"d","title":"Z","titleFontSize":18,"titleAlign":"right","titleBaseline":"alphabetic","titleX":406,"titleY":26}},
    "y":{"field":"v","type":"quantitative","scale":{"domain":[0.732,1.574],"nice":false,"zero":false},"axis":{"orient":"left","values":[0.8,0.9,1,1.1,1.2,1.3,1.4,1.5],"tickSize":-11,"labelFontSize":20,"labelPadding":4,"format":"~g","title":"<N/Z>","titleFontSize":19,"titleAngle":270,"titleAlign":"right","titleBaseline":"alphabetic","titleX":-33,"titleY":2}},
    "detail":{"field":"s"}}},
  {"transform":[{"filter":"isValid(datum.lo)"}],"mark":{"type":"rule","color":"#333","strokeWidth":1},
   "encoding":{"x":{"field":"z","type":"quantitative","scale":{"domain":[2.37,33.44],"nice":false,"zero":false},"axis":{"orient":"top","values":[5,10,15,20,25,30],"tickSize":-11,"labels":false,"title":null}},
    "y":{"field":"lo","type":"quantitative","scale":{"domain":[0.732,1.574],"nice":false,"zero":false},"axis":{"orient":"right","values":[0.8,0.9,1,1.1,1.2,1.3,1.4,1.5],"tickSize":-11,"labels":false,"title":null}},
    "y2":{"field":"hi"}}},
  {"transform":[{"filter":"isValid(datum.lo)"}],"mark":{"type":"tick","orient":"horizontal","size":5,"thickness":1,"color":"#333"},
   "encoding":{"x":{"field":"z","type":"quantitative","scale":{"domain":[2.37,33.44],"nice":false,"zero":false},"axis":null},"y":{"field":"lo","type":"quantitative","scale":{"domain":[0.732,1.574],"nice":false,"zero":false},"axis":null}}},
  {"transform":[{"filter":"isValid(datum.lo)"}],"mark":{"type":"tick","orient":"horizontal","size":5,"thickness":1,"color":"#333"},
   "encoding":{"x":{"field":"z","type":"quantitative","scale":{"domain":[2.37,33.44],"nice":false,"zero":false},"axis":null},"y":{"field":"hi","type":"quantitative","scale":{"domain":[0.732,1.574],"nice":false,"zero":false},"axis":null}}},
  {"mark":{"type":"point","filled":true,"opacity":1,"size":45,"clip":true},
   "encoding":{"x":{"field":"z","type":"quantitative","scale":{"domain":[2.37,33.44],"nice":false,"zero":false},"axis":{"orient":"bottom","values":[3,4,5,6,7,8,9,10,11,12,13,14,15,16,17,18,19,20,21,22,23,24,25,26,27,28,29,30,31,32,33],"tickSize":-6,"labels":false,"title":"Primaire","titleFontSize":11.5,"titleAlign":"left","titleBaseline":"alphabetic","titleX":407,"titleY":30}},
    "y":{"field":"v","type":"quantitative","scale":{"domain":[0.732,1.574],"nice":false,"zero":false},"axis":{"orient":"left","values":[0.74,0.76,0.78,0.8,0.82,0.84,0.86,0.88,0.9,0.92,0.94,0.96,0.98,1,1.02,1.04,1.06,1.08,1.1,1.12,1.14,1.16,1.18,1.2,1.22,1.24,1.26,1.28,1.3,1.32,1.34,1.36,1.38,1.4,1.42,1.44,1.46,1.48,1.5,1.52,1.54,1.56],"tickSize":-6,"labels":false,"title":null}},
    "color":{"field":"s","type":"nominal","scale":{"domain":["Exp.","AMD","AMD+GEMINI"],"range":["#000000","#ff0000","#0000ff"]},"legend":{"orient":"none","legendX":327,"legendY":0,"title":" "}},
    "shape":{"field":"s","type":"nominal","scale":{"domain":["Exp.","AMD","AMD+GEMINI"],"range":["circle","square","square"]},"legend":{"orient":"none","legendX":327,"legendY":0,"title":" "}}}},
  {"data":{"name":"titles"},"transform":[{"filter":"datum.p==='BL'"}],
   "layer":[
    {"mark":{"type":"text","align":"left","baseline":"alphabetic","fontSize":13.5,"dy":-7.6,"fontWeight":"bold","font":"Liberation Sans","color":"black"},
     "encoding":{"x":{"field":"x","type":"quantitative","scale":{"domain":[2.37,33.44],"nice":false,"zero":false},"axis":{"orient":"top","values":[3,4,5,6,7,8,9,10,11,12,13,14,15,16,17,18,19,20,21,22,23,24,25,26,27,28,29,30,31,32,33],"tickSize":-6,"labels":false,"title":null}},
      "y":{"field":"y","type":"quantitative","scale":{"domain":[0.732,1.574],"nice":false,"zero":false},"axis":{"orient":"right","values":[0.74,0.76,0.78,0.8,0.82,0.84,0.86,0.88,0.9,0.92,0.94,0.96,0.98,1,1.02,1.04,1.06,1.08,1.1,1.12,1.14,1.16,1.18,1.2,1.22,1.24,1.26,1.28,1.3,1.32,1.34,1.36,1.38,1.4,1.42,1.44,1.46,1.48,1.5,1.52,1.54,1.56],"tickSize":-6,"labels":false,"title":null}},
      "text":{"field":"a"}}},
    {"mark":{"type":"text","align":"left","baseline":"alphabetic","fontSize":22,"dx":15.7,"fontWeight":"bold","font":"Liberation Sans","color":"black"},
     "encoding":{"x":{"field":"x","type":"quantitative","scale":{"domain":[2.37,33.44],"nice":false,"zero":false},"axis":null},"y":{"field":"y","type":"quantitative","scale":{"domain":[0.732,1.574],"nice":false,"zero":false},"axis":null},"text":{"value":"Ca+"}}},
    {"mark":{"type":"text","align":"left","baseline":"alphabetic","fontSize":13.5,"dx":56.7,"dy":-7.6,"fontWeight":"bold","font":"Liberation Sans","color":"black"},
     "encoding":{"x":{"field":"x","type":"quantitative","scale":{"domain":[2.37,33.44],"nice":false,"zero":false},"axis":null},"y":{"field":"y","type":"quantitative","scale":{"domain":[0.732,1.574],"nice":false,"zero":false},"axis":null},"text":{"field":"b"}}},
    {"mark":{"type":"text","align":"left","baseline":"alphabetic","fontSize":22,"dx":71.5,"fontWeight":"bold","font":"Liberation Sans","color":"black"},
     "encoding":{"x":{"field":"x","type":"quantitative","scale":{"domain":[2.37,33.44],"nice":false,"zero":false},"axis":null},"y":{"field":"y","type":"quantitative","scale":{"domain":[0.732,1.574],"nice":false,"zero":false},"axis":null},"text":{"value":"Ca"}}}
   ]}
 ]},
{"width":451,"height":290,"data":{"name":"pts"},"transform":[{"filter":"datum.p==='BR'"}],
 "resolve":{"axis":{"x":"independent","y":"independent"}},
 "layer":[
  {"mark":{"type":"line","color":"#222","strokeWidth":1,"clip":true},
   "encoding":{"x":{"field":"z","type":"quantitative","scale":{"domain":[2.48,33.42],"nice":false,"zero":false},"axis":{"orient":"bottom","values":[5,10,15,20,25,30],"tickSize":-11,"labelFontSize":17,"labelPadding":5,"format":"d","title":"Z","titleFontSize":18,"titleAlign":"right","titleBaseline":"alphabetic","titleX":403,"titleY":26}},
    "y":{"field":"v","type":"quantitative","scale":{"domain":[0.732,1.574],"nice":false,"zero":false},"axis":{"orient":"left","values":[0.8,0.9,1,1.1,1.2,1.3,1.4,1.5],"tickSize":-11,"labels":false,"title":null}},
    "detail":{"field":"s"}}},
  {"transform":[{"filter":"isValid(datum.lo)"}],"mark":{"type":"rule","color":"#333","strokeWidth":1},
   "encoding":{"x":{"field":"z","type":"quantitative","scale":{"domain":[2.48,33.42],"nice":false,"zero":false},"axis":{"orient":"top","values":[5,10,15,20,25,30],"tickSize":-11,"labels":false,"title":null}},
    "y":{"field":"lo","type":"quantitative","scale":{"domain":[0.732,1.574],"nice":false,"zero":false},"axis":{"orient":"right","values":[0.8,0.9,1,1.1,1.2,1.3,1.4,1.5],"tickSize":-11,"labels":false,"title":null}},
    "y2":{"field":"hi"}}},
  {"transform":[{"filter":"isValid(datum.lo)"}],"mark":{"type":"tick","orient":"horizontal","size":5,"thickness":1,"color":"#333"},
   "encoding":{"x":{"field":"z","type":"quantitative","scale":{"domain":[2.48,33.42],"nice":false,"zero":false},"axis":null},"y":{"field":"lo","type":"quantitative","scale":{"domain":[0.732,1.574],"nice":false,"zero":false},"axis":null}}},
  {"transform":[{"filter":"isValid(datum.lo)"}],"mark":{"type":"tick","orient":"horizontal","size":5,"thickness":1,"color":"#333"},
   "encoding":{"x":{"field":"z","type":"quantitative","scale":{"domain":[2.48,33.42],"nice":false,"zero":false},"axis":null},"y":{"field":"hi","type":"quantitative","scale":{"domain":[0.732,1.574],"nice":false,"zero":false},"axis":null}}},
  {"mark":{"type":"point","filled":true,"opacity":1,"size":45,"clip":true},
   "encoding":{"x":{"field":"z","type":"quantitative","scale":{"domain":[2.48,33.42],"nice":false,"zero":false},"axis":{"orient":"bottom","values":[3,4,5,6,7,8,9,10,11,12,13,14,15,16,17,18,19,20,21,22,23,24,25,26,27,28,29,30,31,32,33],"tickSize":-6,"labels":false,"title":"Primaire","titleFontSize":11.5,"titleAlign":"left","titleBaseline":"alphabetic","titleX":402,"titleY":30}},
    "y":{"field":"v","type":"quantitative","scale":{"domain":[0.732,1.574],"nice":false,"zero":false},"axis":{"orient":"left","values":[0.74,0.76,0.78,0.8,0.82,0.84,0.86,0.88,0.9,0.92,0.94,0.96,0.98,1,1.02,1.04,1.06,1.08,1.1,1.12,1.14,1.16,1.18,1.2,1.22,1.24,1.26,1.28,1.3,1.32,1.34,1.36,1.38,1.4,1.42,1.44,1.46,1.48,1.5,1.52,1.54,1.56],"tickSize":-6,"labels":false,"title":null}},
    "color":{"field":"s","type":"nominal","scale":{"domain":["Exp.","AMD","AMD+GEMINI"],"range":["#000000","#ff0000","#0000ff"]},"legend":{"orient":"none","legendX":327,"legendY":0,"title":" "}},
    "shape":{"field":"s","type":"nominal","scale":{"domain":["Exp.","AMD","AMD+GEMINI"],"range":["circle","square","square"]},"legend":{"orient":"none","legendX":327,"legendY":0,"title":" "}}}},
  {"data":{"name":"titles"},"transform":[{"filter":"datum.p==='BR'"}],
   "layer":[
    {"mark":{"type":"text","align":"left","baseline":"alphabetic","fontSize":13.5,"dy":-7.6,"fontWeight":"bold","font":"Liberation Sans","color":"black"},
     "encoding":{"x":{"field":"x","type":"quantitative","scale":{"domain":[2.48,33.42],"nice":false,"zero":false},"axis":{"orient":"top","values":[3,4,5,6,7,8,9,10,11,12,13,14,15,16,17,18,19,20,21,22,23,24,25,26,27,28,29,30,31,32,33],"tickSize":-6,"labels":false,"title":null}},
      "y":{"field":"y","type":"quantitative","scale":{"domain":[0.732,1.574],"nice":false,"zero":false},"axis":{"orient":"right","values":[0.74,0.76,0.78,0.8,0.82,0.84,0.86,0.88,0.9,0.92,0.94,0.96,0.98,1,1.02,1.04,1.06,1.08,1.1,1.12,1.14,1.16,1.18,1.2,1.22,1.24,1.26,1.28,1.3,1.32,1.34,1.36,1.38,1.4,1.42,1.44,1.46,1.48,1.5,1.52,1.54,1.56],"tickSize":-6,"labels":false,"title":null}},
      "text":{"field":"a"}}},
    {"mark":{"type":"text","align":"left","baseline":"alphabetic","fontSize":22,"dx":15.7,"fontWeight":"bold","font":"Liberation Sans","color":"black"},
     "encoding":{"x":{"field":"x","type":"quantitative","scale":{"domain":[2.48,33.42],"nice":false,"zero":false},"axis":null},"y":{"field":"y","type":"quantitative","scale":{"domain":[0.732,1.574],"nice":false,"zero":false},"axis":null},"text":{"value":"Ca+"}}},
    {"mark":{"type":"text","align":"left","baseline":"alphabetic","fontSize":13.5,"dx":56.7,"dy":-7.6,"fontWeight":"bold","font":"Liberation Sans","color":"black"},
     "encoding":{"x":{"field":"x","type":"quantitative","scale":{"domain":[2.48,33.42],"nice":false,"zero":false},"axis":null},"y":{"field":"y","type":"quantitative","scale":{"domain":[0.732,1.574],"nice":false,"zero":false},"axis":null},"text":{"field":"b"}}},
    {"mark":{"type":"text","align":"left","baseline":"alphabetic","fontSize":22,"dx":71.5,"fontWeight":"bold","font":"Liberation Sans","color":"black"},
     "encoding":{"x":{"field":"x","type":"quantitative","scale":{"domain":[2.48,33.42],"nice":false,"zero":false},"axis":null},"y":{"field":"y","type":"quantitative","scale":{"domain":[0.732,1.574],"nice":false,"zero":false},"axis":null},"text":{"value":"Ca"}}}
   ]}
 ]}
],"spacing":2}
],
"config":{
 "view":{"stroke":"black","strokeWidth":1},
 "axis":{"grid":false,"domain":false,"tickColor":"#222","tickWidth":1,"labelFont":"Liberation Sans","labelFontWeight":"bold","labelColor":"black","titleFont":"Liberation Sans","titleFontWeight":"bold","titleColor":"black"},
 "legend":{"labelFont":"Liberation Sans","labelFontWeight":"bold","labelFontSize":13,"labelColor":"black","padding":8,"strokeColor":"black","fillColor":"white","rowPadding":10,"labelOffset":14,"symbolStrokeWidth":0,"titleFontSize":13,"titlePadding":6.5,"symbolSize":40,"labelLimit":200}
}
}
